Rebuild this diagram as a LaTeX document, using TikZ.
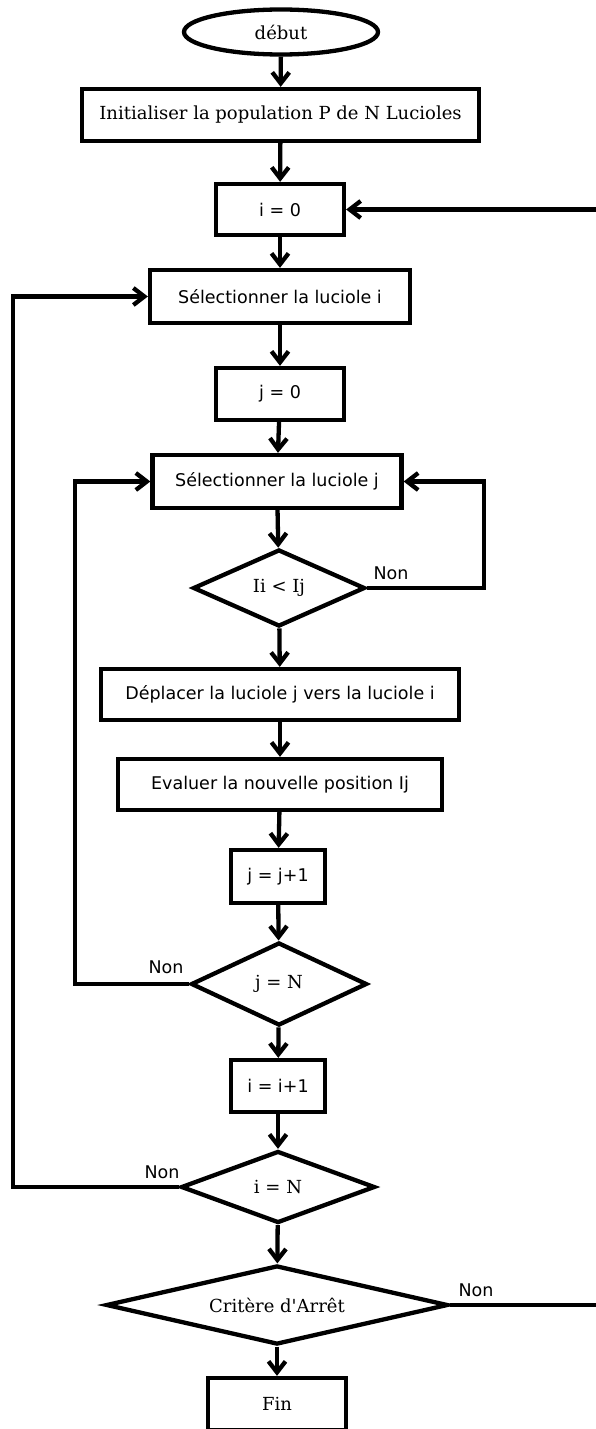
\documentclass[tikz,border=0pt]{standalone}
\usepackage{fontspec}
\setmainfont{DejaVu Serif}[Ligatures=TeXOff]
\setsansfont{DejaVu Sans}
\usetikzlibrary{shapes.geometric,arrows.meta}
\begin{document}
\begin{tikzpicture}[x=1pt,y=-1pt,
  line width=4.3pt,
  arr/.style={-{Straight Barb[length=11pt,width=17pt]}},
  proc/.style={draw,rectangle,inner sep=0pt,font=\fontsize{17.5}{20}\sffamily},
  sproc/.style={draw,rectangle,inner sep=0pt,font=\fontsize{18}{20}\selectfont},
  test/.style={draw,diamond,inner sep=0pt,font=\fontsize{18}{20}\selectfont},
  lbl/.style={font=\fontsize{17.5}{20}\sffamily,inner sep=0pt}]
\clip (0,0) rectangle (596,1429);
\useasboundingbox (0,0) rectangle (596,1429);

% main column
\node[draw,ellipse,inner sep=0pt,minimum width=194pt,minimum height=45pt,
      font=\fontsize{18}{20}\selectfont] (debut) at (281,32) {début};
\node[sproc,minimum width=397pt,minimum height=52pt] (init) at (280.5,115)
  {Initialiser la population P de N Lucioles};
\node[proc,minimum width=128pt,minimum height=51pt] (i0) at (280,209.5) {i = 0};
\node[proc,minimum width=260pt,minimum height=53pt] (seli) at (280,296.5) {Sélectionner la luciole i};
\node[proc,minimum width=128pt,minimum height=52pt] (j0) at (280,394) {j = 0};
\node[proc,minimum width=249pt,minimum height=53pt] (selj) at (277,481.5) {Sélectionner la luciole j};
\node[test,aspect=2.2,minimum width=172pt,minimum height=77pt] (cmp) at (279,588) {Ii < Ij};
\node[proc,minimum width=358pt,minimum height=51pt] (dep) at (280,694.5) {Déplacer la luciole j vers la luciole i};
\node[proc,minimum width=324pt,minimum height=51pt] (eval) at (280,784.5) {Evaluer la nouvelle position Ij};
\node[proc,minimum width=94pt,minimum height=53pt] (jinc) at (278,876.5) {j = j+1};
\node[test,aspect=2.1,minimum width=176pt,minimum height=83pt] (jend) at (279,984) {j = N};
\node[proc,minimum width=94pt,minimum height=52pt] (iinc) at (278,1086) {i = i+1};
\node[test,aspect=2.7,minimum width=194pt,minimum height=72pt] (iend) at (278,1187) {i = N};
\node[test,aspect=4.3,minimum width=342pt,minimum height=79pt] (stop) at (277,1305) {Critère d'Arrêt};
\node[sproc,minimum width=138pt,minimum height=52pt] (fin) at (277,1404) {Fin};

% free ends at the right border
\coordinate (restart) at (596,209.5);
\coordinate (out) at (596,1305);

% straight flow
\draw[arr] (debut) -- (init);
\draw[arr] (init) -- (i0);
\draw[arr] (i0) -- (seli);
\draw[arr] (seli) -- (j0);
\draw[arr] (j0) -- (selj);
\draw[arr] (selj) -- (cmp);
\draw[arr] (cmp) -- (dep);
\draw[arr] (dep) -- (eval);
\draw[arr] (eval) -- (jinc);
\draw[arr] (jinc) -- (jend);
\draw[arr] (jend) -- (iinc);
\draw[arr] (iinc) -- (iend);
\draw[arr] (iend) -- (stop);
\draw[arr] (stop) -- (fin);

% loops
\draw[arr] (cmp.east) -- (484,588) |- (selj.east);
\draw[arr] (jend.west) -- (75,984) |- (selj.west);
\draw[arr] (iend.west) -- (13,1187) |- (seli.west);
\draw (stop.east) -- (out);
\draw[arr] (restart) -- (i0.east);

% branch labels
\node[lbl] (n1) at (391,573) {Non};
\node[lbl] (n2) at (166,967) {Non};
\node[lbl] (n3) at (162,1172) {Non};
\node[lbl] (n4) at (476,1290) {Non};
\end{tikzpicture}
\end{document}
